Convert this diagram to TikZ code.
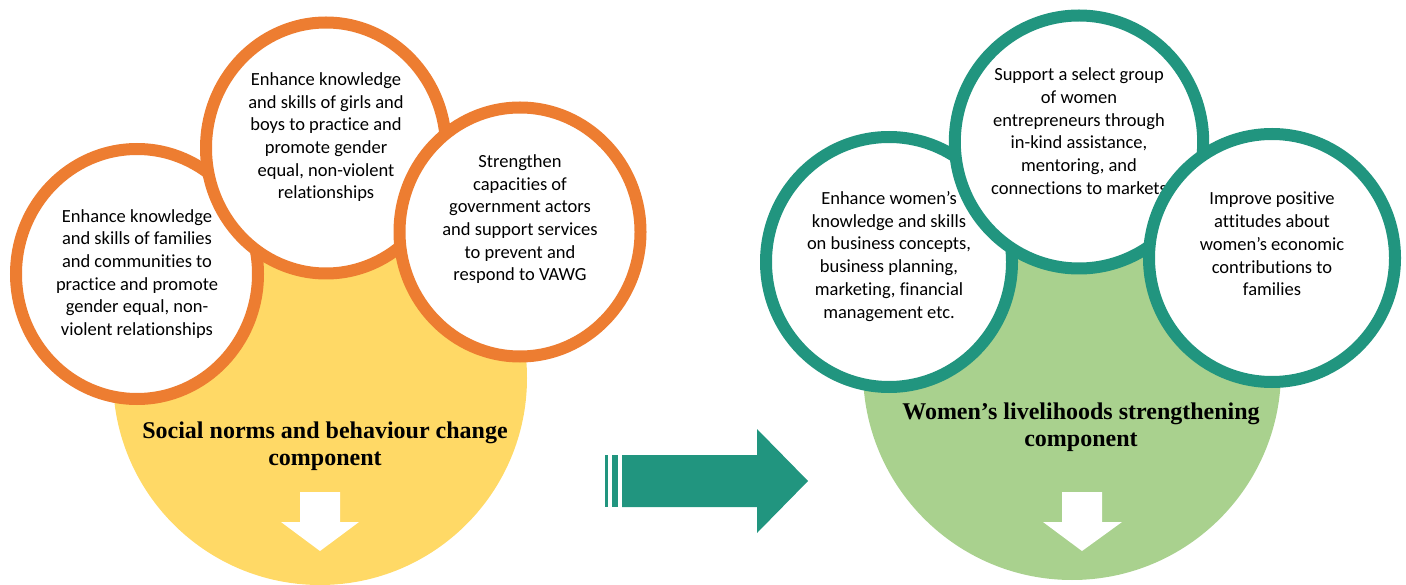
\documentclass[tikz,border=0pt]{standalone}
\usepackage{fontspec}
\setmainfont{Carlito}[Ligatures=NoCommon]
\newfontfamily\headfont{Liberation Serif}
\usetikzlibrary{shapes.geometric}
\definecolor{ringorange}{HTML}{ED7D31}
\definecolor{baseyellow}{HTML}{FFD966}
\definecolor{ringteal}{HTML}{21957F}
\definecolor{basegreen}{HTML}{A9D18E}
% extra depth under the last line lifts the text inside its ring
\newcommand{\liftby}[1]{\rule[-#1]{0pt}{0pt}}
\tikzset{
  goal/.style={ellipse, draw, fill=white, line width=12pt, inner sep=0pt,
    align=center, font=\fontsize{18.5}{22.7}\selectfont},
  base/.style={circle, inner sep=0pt, minimum size=#1},
  headline/.style={align=center, font=\headfont\bfseries\fontsize{24}{27.5}\selectfont},
}

\begin{document}
\begin{tikzpicture}[x=1pt, y=-1pt]
	\useasboundingbox (0,0) rectangle (1406,585);
	% social norms component
	\node[base=414pt, fill=baseyellow] (normsBase) at (320,378) {};
	\node[headline] (normsTitle) at (325,446) {Social norms and behaviour change\\component};
	\fill[white] (300,492) -- (340,492) -- (340,522) -- (359,522) -- (320,551) -- (281,522) -- (300,522) -- cycle;
	\node[goal, draw=ringorange, minimum width=242pt, minimum height=250pt] (famC) at (137,274)
		{Enhance knowledge\\and skills of families\\and communities to\\practice and promote\\gender equal, non-\\violent relationships};
	\node[goal, draw=ringorange, minimum width=240pt, minimum height=251pt] (kidsC) at (326,148)
		{Enhance knowledge\\and skills of girls and\\boys to practice and\\promote gender\\equal, non-violent\\relationships\liftby{24.5pt}};
	\node[goal, draw=ringorange, minimum width=241pt, minimum height=249pt] (govC) at (520,232)
		{Strengthen\\capacities of\\government actors\\and support services\\to prevent and\\respond to VAWG\liftby{28.5pt}};
	% arrow between the components
	\fill[ringteal] (605,455) rectangle (608,507);
	\fill[ringteal] (612,455) rectangle (618,507);
	\fill[ringteal] (622,455) -- (757,455) -- (757,429) -- (808,481) -- (757,533) -- (757,507) -- (622,507) -- cycle;
	% livelihoods component
	\node[base=418pt, fill=basegreen] (liveBase) at (1072,371) {};
	\node[headline] (liveTitle) at (1081,427) {Women’s livelihoods strengthening\\component};
	\fill[white] (1062,492) -- (1102,492) -- (1102,522) -- (1122,522) -- (1082,551) -- (1043,522) -- (1062,522) -- cycle;
	\node[goal, draw=ringteal, minimum width=246pt, minimum height=250pt] (bizC) at (889,262)
		{Enhance women’s\\knowledge and skills\\on business concepts,\\business planning,\\marketing, financial\\management etc.\liftby{14.5pt}};
	\node[goal, draw=ringteal, minimum width=245pt, minimum height=253pt] (entC) at (1079,142)
		{Support a select group\\of women\\entrepreneurs through\\in-kind assistance,\\mentoring, and\\connections to markets\liftby{22pt}};
	\node[goal, draw=ringteal, minimum width=246pt, minimum height=248pt] (attC) at (1272,258)
		{Improve positive\\attitudes about\\women’s economic\\contributions to\\families\liftby{28pt}};
\end{tikzpicture}
\end{document}
